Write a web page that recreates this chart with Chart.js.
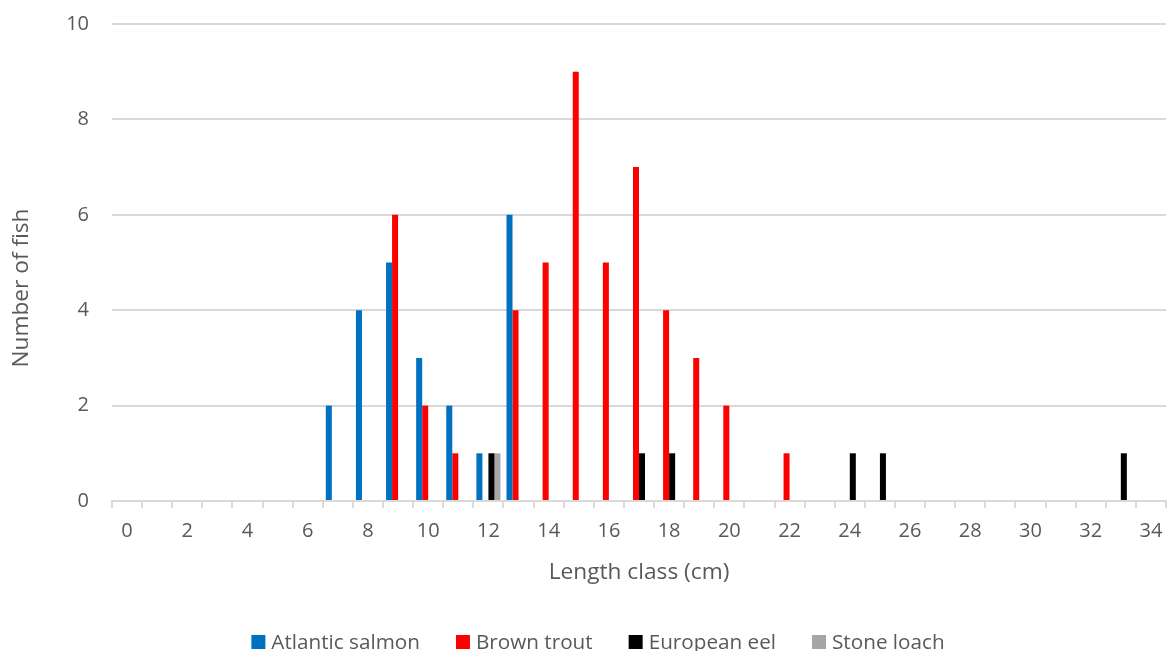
<!DOCTYPE html>
<html>
<head>
<meta charset="utf-8">
<script src="https://cdn.jsdelivr.net/npm/chart.js@4.4.1/dist/chart.umd.min.js"></script>
<style>
  html, body { margin: 0; padding: 0; background: #fff; }
  #wrap { width: 1169px; height: 651px; }
</style>
</head>
<body>
<div id="wrap"><canvas id="c" width="1169" height="651"></canvas></div>
<script>
// Length classes 0–34 cm
const lengthClasses = Array.from({ length: 35 }, (_, i) => String(i));

// Fish counts per length class, by species
const atlanticSalmon = [0,0,0,0,0,0,0,2,4,5,3,2,1,6,0,0,0,0,0,0,0,0,0,0,0,0,0,0,0,0,0,0,0,0,0];
const brownTrout     = [0,0,0,0,0,0,0,0,0,6,2,1,0,4,5,9,5,7,4,3,2,0,1,0,0,0,0,0,0,0,0,0,0,0,0];
const europeanEel    = [0,0,0,0,0,0,0,0,0,0,0,0,1,0,0,0,0,1,1,0,0,0,0,0,1,1,0,0,0,0,0,0,0,1,0];
const stoneLoach     = [0,0,0,0,0,0,0,0,0,0,0,0,1,0,0,0,0,0,0,0,0,0,0,0,0,0,0,0,0,0,0,0,0,0,0];

const yTicks = [0, 2, 4, 6, 8, 10];

const FONT = "'Open Sans', 'Liberation Sans', sans-serif";
const TEXT = '#595959';
const GRID = '#d9d9d9';
const Y_TITLE = 'Number of fish';

const series = [
  { label: 'Atlantic salmon', data: atlanticSalmon, color: '#0070c0' },
  { label: 'Brown trout',     data: brownTrout,     color: '#ff0000' },
  { label: 'European eel',    data: europeanEel,    color: '#000000' },
  { label: 'Stone loach',     data: stoneLoach,     color: '#a6a6a6' }
];

// Rotated value-axis title plus a legend row along the bottom
// (square swatch, short gap, label, wider gap).
const extras = {
  id: 'extras',
  afterDraw(chart) {
    const ctx = chart.ctx;
    ctx.save();

    // value-axis title
    ctx.font = '22.7px ' + FONT;
    ctx.fillStyle = TEXT;
    ctx.textAlign = 'center';
    ctx.textBaseline = 'middle';
    ctx.translate(22, 288);
    ctx.rotate(-Math.PI / 2);
    ctx.fillText(Y_TITLE, 0, 0);
    ctx.setTransform(1, 0, 0, 1, 0, 0);

    // legend
    const size = 20.7, box = 14, textGap = 6, itemGap = 36;
    const baseline = 649, boxTop = 635, centreX = 598;
    ctx.font = size + 'px ' + FONT;
    const items = chart.data.datasets.map(ds => ({
      label: ds.label, color: ds.backgroundColor, w: ctx.measureText(ds.label).width
    }));
    const total = items.reduce((s, it) => s + box + textGap + it.w, 0) + itemGap * (items.length - 1);
    let x = centreX - total / 2;
    ctx.textBaseline = 'alphabetic';
    ctx.textAlign = 'left';
    items.forEach(it => {
      ctx.fillStyle = it.color;
      ctx.fillRect(x, boxTop, box, box);
      ctx.fillStyle = TEXT;
      ctx.fillText(it.label, x + box + textGap, baseline);
      x += box + textGap + it.w + itemGap;
    });
    ctx.restore();
  }
};

new Chart(document.getElementById('c'), {
  type: 'bar',
  data: {
    labels: lengthClasses,
    datasets: series.map(s => ({
      label: s.label,
      data: s.data,
      backgroundColor: s.color,
      borderWidth: 0,
      barPercentage: 1.0,
      categoryPercentage: 0.8
    }))
  },
  plugins: [extras],
  options: {
    responsive: false,
    animation: false,
    layout: { padding: { left: 0, right: 3, top: 24, bottom: 60 } },
    plugins: {
      legend: { display: false },
      tooltip: { enabled: false }
    },
    scales: {
      x: {
        offset: true,
        afterFit: s => { s.height = 90; s.paddingLeft = 0; s.paddingRight = 0; },
        grid: {
          offset: true,
          drawOnChartArea: false,
          drawTicks: true,
          tickLength: 7,
          color: GRID,
          lineWidth: 2
        },
        border: { color: GRID, width: 2 },
        ticks: {
          autoSkip: false,
          maxRotation: 0,
          font: { family: FONT, size: 20 },
          color: TEXT,
          padding: 11,
          callback: function (v, i) {
            const lab = lengthClasses[i];
            return Number(lab) % 2 === 0 ? lab : '';
          }
        },
        title: {
          display: true,
          text: 'Length class (cm)',
          font: { family: FONT, size: 22.7 },
          color: TEXT,
          padding: { top: 0, bottom: 5 }
        }
      },
      y: {
        min: yTicks[0],
        max: yTicks[yTicks.length - 1],
        afterFit: s => { s.width = 112; s.paddingTop = 0; s.paddingBottom = 0; },
        afterBuildTicks: axis => { axis.ticks = yTicks.map(v => ({ value: v })); },
        grid: { color: GRID, lineWidth: 2, drawTicks: false },
        border: { display: false },
        ticks: {
          font: { family: FONT, size: 20 },
          color: TEXT,
          padding: 23
        }
      }
    }
  }
});
</script>
</body>
</html>
